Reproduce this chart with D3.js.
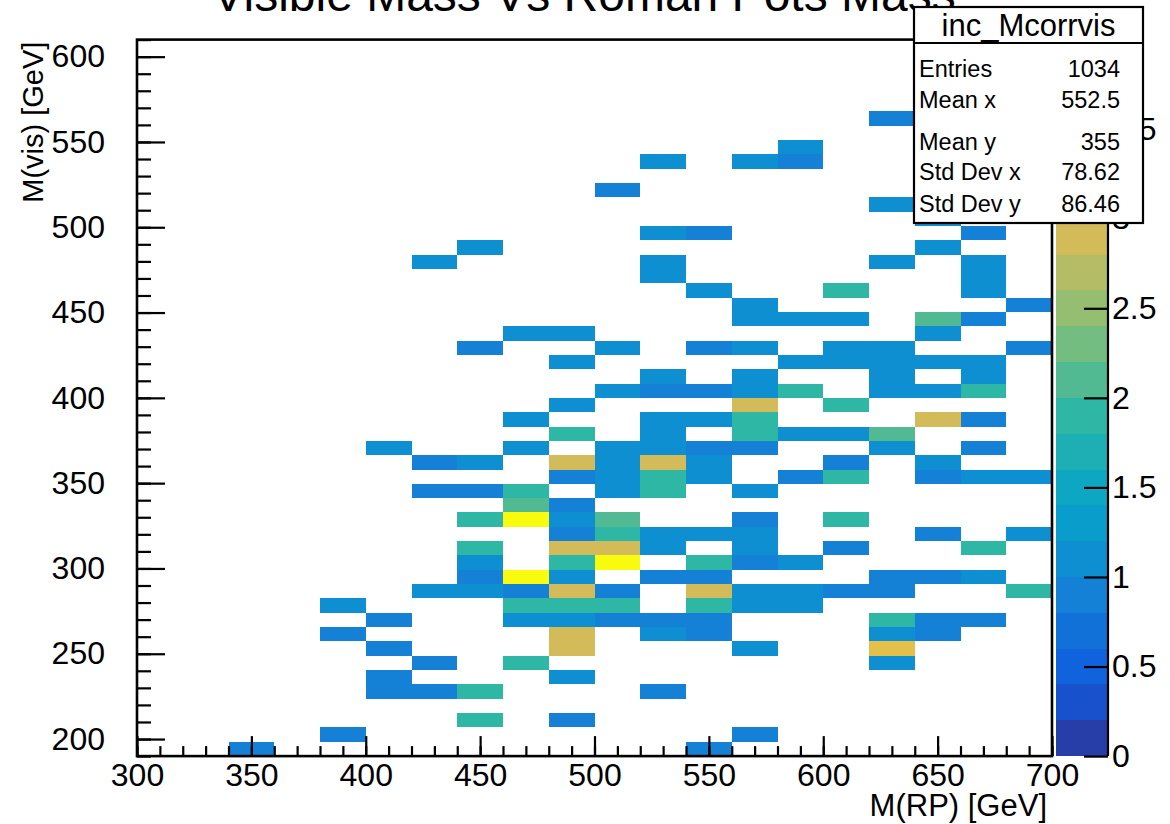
<!DOCTYPE html>
<html>
<head>
<meta charset="utf-8">
<script src="https://cdn.jsdelivr.net/npm/d3@7/dist/d3.min.js"></script>
<style>
  body { margin: 0; background: #fff; }
  svg { display: block; font-family: "Liberation Sans", Arial, sans-serif; }
</style>
</head>
<body>
<div id="chart"></div>
<script>
// histogram binning: [nbins, low, high]
const xBinning = [20, 300, 700]
const yBinning = [50, 190, 610]
const zRange = [0, 4]

// filled bins: [x bin index, y bin index, content]
const filledBins = [
  [2,0,0.9],[12,0,0.9],
  [4,1,0.9],[13,1,0.9],
  [7,2,1.9],[9,2,0.9],
  [5,4,0.9],[6,4,0.9],[7,4,1.9],[11,4,0.9],
  [5,5,0.9],[9,5,1.1],
  [6,6,0.9],[8,6,1.9],[16,6,1.1],
  [5,7,0.9],[9,7,2.9],[13,7,1.1],[16,7,3.1],
  [4,8,0.9],[9,8,2.9],[11,8,1.1],[12,8,0.9],[16,8,1.1],[17,8,0.9],
  [5,9,0.9],[8,9,1.1],[9,9,1.1],[10,9,0.9],[11,9,0.9],[12,9,0.9],[16,9,1.9],[17,9,0.9],[18,9,0.9],
  [4,10,1.1],[8,10,1.9],[9,10,1.9],[10,10,1.9],[12,10,1.9],[13,10,1.1],[14,10,1.1],
  [6,11,1.1],[7,11,1.1],[8,11,0.9],[9,11,2.9],[10,11,0.9],[12,11,2.9],[13,11,1.1],[14,11,1.1],[15,11,0.9],[16,11,0.9],[19,11,1.9],
  [7,12,0.9],[8,12,4],[9,12,1.1],[11,12,0.9],[12,12,0.9],[16,12,0.9],[17,12,0.9],[18,12,1.1],
  [7,13,1.1],[9,13,1.9],[10,13,4],[12,13,1.9],[13,13,0.9],[14,13,1.1],
  [7,14,1.9],[9,14,2.9],[10,14,2.9],[11,14,1.1],[13,14,1.1],[15,14,0.9],[18,14,1.9],
  [9,15,0.9],[10,15,1.9],[11,15,1.1],[12,15,1.1],[13,15,1.1],[17,15,0.9],[19,15,1.1],
  [7,16,1.9],[8,16,4],[9,16,1.1],[10,16,2.1],[13,16,0.9],[15,16,1.9],
  [8,17,2.1],[9,17,0.9],
  [6,18,0.9],[7,18,0.9],[8,18,1.9],[10,18,1.1],[11,18,1.9],[13,18,1.1],
  [9,19,0.9],[10,19,1.1],[11,19,1.9],[12,19,1.1],[14,19,0.9],[15,19,1.9],[17,19,0.9],[18,19,1.1],[19,19,1.1],
  [6,20,0.9],[7,20,1.1],[9,20,2.9],[10,20,1.1],[11,20,2.9],[12,20,1.1],[15,20,0.9],[17,20,1.1],
  [5,21,1.1],[8,21,1.1],[10,21,1.1],[11,21,1.1],[12,21,0.9],[13,21,0.9],[16,21,1.1],[18,21,0.9],
  [9,22,1.9],[11,22,1.1],[13,22,1.9],[14,22,1.1],[15,22,1.1],[16,22,2.1],
  [8,23,1.1],[11,23,1.1],[12,23,1.1],[13,23,1.9],[17,23,2.9],[18,23,0.9],
  [9,24,1.1],[13,24,2.9],[15,24,1.9],
  [10,25,1.1],[11,25,0.9],[12,25,0.9],[13,25,1.1],[14,25,1.9],[16,25,1.1],[17,25,1.1],[18,25,1.9],
  [11,26,1.1],[13,26,1.1],[16,26,1.1],[18,26,1.1],
  [9,27,1.1],[14,27,1.1],[15,27,1.1],[16,27,1.1],[17,27,1.1],[18,27,1.1],
  [7,28,0.9],[10,28,1.1],[12,28,0.9],[13,28,1.1],[15,28,1.1],[16,28,1.1],[19,28,0.9],
  [8,29,1.1],[9,29,1.1],[17,29,1.1],
  [13,30,1.1],[14,30,1.1],[15,30,1.1],[17,30,2.1],[18,30,0.9],
  [13,31,1.1],[19,31,0.9],
  [12,32,1.1],[15,32,1.9],[18,32,1.1],
  [11,33,1.1],[18,33,1.1],
  [6,34,1.1],[11,34,1.1],[16,34,1.1],[18,34,1.1],
  [7,35,1.1],[17,35,1.1],
  [11,36,1.1],[12,36,0.9],[18,36,0.9],
  [17,37,1.1],
  [16,38,1.1],
  [10,39,0.9],
  [11,41,1.1],[13,41,1.1],[14,41,0.9],
  [14,42,1.1],
  [16,44,0.9]
]

const xTicks = [300, 350, 400, 450, 500, 550, 600, 650, 700]
const yTicks = [200, 250, 300, 350, 400, 450, 500, 550, 600]
const zTicks = [0, 0.5, 1, 1.5, 2, 2.5, 3, 3.5, 4]

const title = "Visible Mass Vs Roman Pots Mass"
const xTitle = "M(RP) [GeV]"
const yTitle = "M(vis) [GeV]"
const statName = "inc_Mcorrvis"
const statLabels = ["Entries", "Mean x", "Mean y", "Std Dev x", "Std Dev y"]
const statValues = ["1034", "552.5", "355", "78.62", "86.46"]

// kBird palette stops
const birdR = [0.2082, 0.0592, 0.0780, 0.0232, 0.1802, 0.5301, 0.8186, 0.9956, 0.9764]
const birdG = [0.1664, 0.3599, 0.5041, 0.6419, 0.7178, 0.7492, 0.7328, 0.7862, 0.9832]
const birdB = [0.5293, 0.8684, 0.8385, 0.7914, 0.6425, 0.4662, 0.3499, 0.1968, 0.0539]
const nContours = 20

const W = 1170, H = 824
const frame = { left: 137, right: 1052, top: 39.6, bottom: 756.1 }

const svg = d3.select("#chart").append("svg")
  .attr("width", W).attr("height", H)

const x = d3.scaleLinear().domain([xBinning[1], xBinning[2]]).range([frame.left, frame.right])
const y = d3.scaleLinear().domain([yBinning[1], yBinning[2]]).range([frame.bottom, frame.top])
const z = d3.scaleLinear().domain(zRange).range([frame.bottom, frame.top])

const bird = d3.scaleLinear()
  .domain(d3.range(9).map(i => i / 8))
  .range(d3.range(9).map(i => d3.rgb(birdR[i] * 255, birdG[i] * 255, birdB[i] * 255).toString()))
  .interpolate(d3.interpolateRgb)
  .clamp(true)

const contourColor = i => bird(Math.floor((i + 0.99) * 255 / nContours) / 254)
const dz = (zRange[1] - zRange[0]) / nContours
const colorOf = v => contourColor(Math.min(nContours - 1, Math.floor((v - zRange[0]) / dz + 1e-9)))

const xw = (xBinning[2] - xBinning[1]) / xBinning[0]
const yw = (yBinning[2] - yBinning[1]) / yBinning[0]

// cells
svg.append("defs").append("clipPath").attr("id", "fclip")
  .append("rect")
  .attr("x", frame.left).attr("y", frame.top)
  .attr("width", frame.right - frame.left).attr("height", frame.bottom - frame.top)

svg.append("g").attr("clip-path", "url(#fclip)")
  .selectAll("rect")
  .data(filledBins)
  .enter().append("rect")
  .attr("x", d => x(xBinning[1] + d[0] * xw))
  .attr("width", d => x(xBinning[1] + (d[0] + 1) * xw) - x(xBinning[1] + d[0] * xw))
  .attr("y", d => y(yBinning[1] + (d[1] + 1) * yw))
  .attr("height", d => y(yBinning[1] + d[1] * yw) - y(yBinning[1] + (d[1] + 1) * yw))
  .attr("fill", d => colorOf(d[2]))
  .attr("shape-rendering", "crispEdges")

// axes
svg.append("g").attr("transform", `translate(0,${frame.bottom})`)
  .call(d3.axisBottom(x).tickValues(xTicks).tickSize(-20).tickPadding(7).tickFormat(d3.format("d")))
svg.append("g").attr("transform", `translate(0,${frame.bottom})`)
  .call(d3.axisBottom(x).tickValues(d3.range(300, 701, 10)).tickSize(-10).tickFormat(""))
svg.append("g").attr("transform", `translate(${frame.left},0)`)
  .call(d3.axisLeft(y).tickValues(yTicks).tickSize(-28).tickPadding(32).tickFormat(d3.format("d")))
svg.append("g").attr("transform", `translate(${frame.left},0)`)
  .call(d3.axisLeft(y).tickValues(d3.range(190, 611, 10)).tickSize(-14).tickFormat(""))

svg.selectAll(".domain").remove()
svg.selectAll(".tick line").attr("stroke", "#000").attr("stroke-width", 2.2)
svg.selectAll(".tick text").attr("font-size", 32).attr("fill", "#000")
  .attr("font-family", "Liberation Sans, Arial, sans-serif")

// frame
svg.append("rect")
  .attr("x", frame.left).attr("y", frame.top)
  .attr("width", frame.right - frame.left).attr("height", frame.bottom - frame.top)
  .attr("fill", "none").attr("stroke", "#000").attr("stroke-width", 2.6)

// palette
const pal = { left: 1056, right: 1108 }
svg.append("g").selectAll("rect")
  .data(d3.range(nContours))
  .enter().append("rect")
  .attr("x", pal.left).attr("width", pal.right - pal.left)
  .attr("y", i => z(zRange[0] + (i + 1) * dz))
  .attr("height", i => z(zRange[0] + i * dz) - z(zRange[0] + (i + 1) * dz))
  .attr("fill", i => contourColor(i))
  .attr("shape-rendering", "crispEdges")

const zAxis = svg.append("g").attr("transform", `translate(${pal.right},0)`)
  .call(d3.axisRight(z).tickValues(zTicks).tickSize(-24).tickPadding(4).tickFormat(d => d))
zAxis.select(".domain").attr("stroke", "#000").attr("stroke-width", 2.2)
  .attr("d", `M0,${frame.top}V${frame.bottom}`)
zAxis.selectAll(".tick line").attr("stroke", "#000").attr("stroke-width", 2.2)
zAxis.selectAll(".tick text").attr("font-size", 32).attr("fill", "#000")
  .attr("font-family", "Liberation Sans, Arial, sans-serif")

// titles
svg.append("text")
  .attr("x", 584).attr("y", 11)
  .attr("text-anchor", "middle")
  .attr("font-size", 48)
  .text(title)

svg.append("text")
  .attr("x", 1047).attr("y", 816)
  .attr("text-anchor", "end")
  .attr("font-size", 31)
  .text(xTitle)

svg.append("text")
  .attr("transform", `translate(43,${frame.top + 2}) rotate(-90)`)
  .attr("text-anchor", "end")
  .attr("font-size", 29)
  .text(yTitle)

// stats box
const box = { left: 914, right: 1143, top: 7, sep: 43, bottom: 223 }
const stats = svg.append("g")
stats.append("rect")
  .attr("x", box.left).attr("y", box.top)
  .attr("width", box.right - box.left).attr("height", box.bottom - box.top)
  .attr("fill", "#fff").attr("stroke", "#000").attr("stroke-width", 2.2)
stats.append("line")
  .attr("x1", box.left).attr("x2", box.right)
  .attr("y1", box.sep).attr("y2", box.sep)
  .attr("stroke", "#000").attr("stroke-width", 2.2)
stats.append("text")
  .attr("x", (box.left + box.right) / 2).attr("y", 36)
  .attr("text-anchor", "middle").attr("font-size", 31)
  .text(statName)

const statBase = [77, 108, 150, 180, 212]
stats.selectAll(".slabel").data(statLabels).enter().append("text")
  .attr("x", box.left + 5).attr("y", (d, i) => statBase[i])
  .attr("font-size", 23.5)
  .text(d => d)
stats.selectAll(".svalue").data(statValues).enter().append("text")
  .attr("x", 1120).attr("y", (d, i) => statBase[i])
  .attr("text-anchor", "end")
  .attr("font-size", 23.5)
  .text(d => d)
</script>
</body>
</html>
